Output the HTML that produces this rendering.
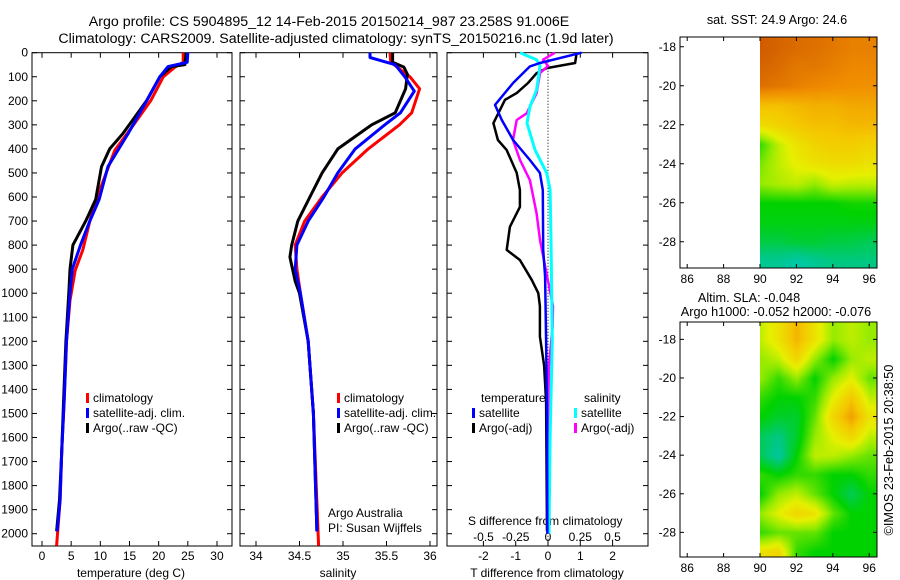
<!DOCTYPE html>
<html><head><meta charset="utf-8">
<style>
body{margin:0;background:#fff;}
#wrap{position:relative;width:900px;height:580px;overflow:hidden;font-family:"Liberation Sans",sans-serif;}
svg{position:absolute;left:0;top:0;}
text{font-family:"Liberation Sans",sans-serif;font-size:12px;fill:#000;}
canvas{position:absolute;}
</style></head>
<body>
<div id="wrap">
<canvas id="sst" width="117" height="231" style="left:760px;top:37px"></canvas>
<canvas id="sla" width="117" height="235" style="left:760px;top:322px"></canvas>
<svg id="svg" width="900" height="580" xmlns="http://www.w3.org/2000/svg">
<text x="329" y="26" text-anchor="middle" style="font-size:14.2px">Argo profile: CS 5904895_12 14-Feb-2015 20150214_987 23.258S 91.006E</text>
<text x="336" y="43" text-anchor="middle" style="font-size:14.2px">Climatology: CARS2009. Satellite-adjusted climatology: synTS_20150216.nc (1.9d later)</text>
<text x="777" y="24" text-anchor="middle" style="font-size:12.7px">sat. SST: 24.9 Argo: 24.6</text>
<text x="749" y="302" text-anchor="middle" style="font-size:12.7px">Altim. SLA: -0.048</text>
<text x="776" y="316" text-anchor="middle" style="font-size:12.7px">Argo h1000: -0.052 h2000: -0.076</text>
<text transform="translate(893,450) rotate(-90)" text-anchor="middle" style="font-size:12.7px">©IMOS 23-Feb-2015 20:38:50</text>
<text x="328" y="517">Argo Australia</text>
<text x="328" y="532">PI: Susan Wijffels</text>
<text x="468" y="525">S difference from climatology</text>
<text x="131" y="577" text-anchor="middle">temperature (deg C)</text>
<text x="338" y="577" text-anchor="middle">salinity</text>
<text x="547" y="577" text-anchor="middle">T difference from climatology</text>
</svg>
</div>
<script>
// ---- data ----
const depthTicks=[0,100,200,300,400,500,600,700,800,900,1000,1100,1200,1300,1400,1500,1600,1700,1800,1900,2000];
const tempTicks=[0,5,10,15,20,25,30];
const salTicks=[34,34.5,35,35.5,36];
const tdiffTicks=[-2,-1,0,1,2];
const sdiffTicks=[-0.5,-0.25,0,0.25,0.5];
const sdiffTickLabels=["-0.5","-0.25","0","0.25","0.5"];
const latTicks=[-18,-20,-22,-24,-26,-28];
const lonTicks=[86,88,90,92,94,96];

const tempClimDepth=[0,40,60,100,197,300,405,500,612,700,820,905,1030,1200,1444,1650,1860,2050];
const tempClim=[24.2,24.2,22.8,20.8,18.7,15.7,12.5,11.0,9.3,8.2,7.0,5.7,4.8,4.2,3.8,3.4,3.1,2.5];
const tempSatDepth=[0,40,58,100,197,335,474,610,700,800,900,1000,1200,1444,1650,1860,1990];
const tempSat=[25.0,24.9,21.6,20.2,18.0,14.8,11.3,9.8,8.2,6.6,5.2,4.8,4.2,3.8,3.4,3.1,2.6];
const tempArgoDepth=[0,50,58,100,197,335,400,474,610,700,800,900,1000,1200,1444,1650,1860,1990];
const tempArgo=[24.7,24.5,22.2,20.2,18.0,13.9,11.6,10.2,9.2,7.5,5.3,4.8,4.6,4.1,3.7,3.4,3.0,2.5];

const salClimDepth=[0,40,100,150,250,300,400,500,600,700,800,900,1000,1200,1500,2050];
const salClim=[35.54,35.55,35.77,35.88,35.79,35.65,35.29,34.99,34.76,34.56,34.45,34.47,34.51,34.6,34.66,34.72];
const salSatDepth=[0,20,50,100,160,250,300,400,500,600,700,800,900,1000,1200,1500,1990];
const salSat=[35.31,35.31,35.6,35.71,35.82,35.66,35.48,35.14,34.94,34.78,34.6,34.47,34.45,34.51,34.6,34.66,34.7];
const salArgoDepth=[0,40,60,90,150,250,300,400,500,600,700,800,850,950,1000,1200,1500,1990];
const salArgo=[35.57,35.57,35.7,35.74,35.72,35.6,35.33,34.94,34.76,34.62,34.48,34.41,34.39,34.45,34.5,34.6,34.66,34.7];

const dTSatDepth=[0,43,57,126,217,280,363,446,500,571,820,930,1195,1500,2000];
const dTSat=[1.04,-0.25,-0.56,-1.08,-1.64,-1.43,-1.08,-0.56,-0.25,-0.16,-0.15,-0.09,-0.06,-0.03,-0.02];
const dTArgoDepth=[0,43,64,85,126,168,196,293,363,405,500,571,641,724,820,862,946,1000,1054,1180,1300,1450,1990];
const dTArgo=[0.89,0.84,-0.04,-0.35,-0.62,-0.97,-1.33,-1.69,-1.55,-1.28,-0.97,-0.87,-0.87,-1.18,-1.28,-0.87,-0.50,-0.30,-0.25,-0.25,-0.12,-0.06,-0.03];
const dSSatDepth=[0,29,55,155,225,293,405,500,571,779,1195,1600,2000];
const dSSat=[-0.217,-0.088,-0.062,-0.088,-0.14,-0.163,-0.10,-0.01,0.016,0.023,0.033,0.016,0.008];
const dSArgoDepth=[0,29,55,85,168,252,280,363,446,530,668,779,904,1054,1140,1300,1600,1990];
const dSArgo=[0.054,-0.039,0,-0.062,-0.088,-0.165,-0.243,-0.271,-0.217,-0.14,-0.088,-0.062,-0.016,0.039,0.036,0.008,0,0];

const sstGrid=[
[0.97,0.95,0.93,0.92,0.9,0.88,0.88],
[0.95,0.93,0.9,0.9,0.88,0.86,0.86],
[0.92,0.9,0.88,0.86,0.85,0.84,0.84],
[0.72,0.72,0.74,0.76,0.76,0.78,0.78],
[0.62,0.66,0.7,0.72,0.72,0.74,0.74],
[0.35,0.5,0.6,0.66,0.68,0.68,0.66],
[0.42,0.5,0.56,0.6,0.62,0.62,0.6],
[0.45,0.48,0.5,0.45,0.52,0.5,0.5],
[0.3,0.3,0.3,0.3,0.3,0.32,0.32],
[0.28,0.28,0.28,0.28,0.28,0.28,0.28],
[0.22,0.22,0.24,0.24,0.22,0.22,0.2],
[0.12,0.12,0.08,0.12,0.15,0.15,0.15]];
const slaGrid=[
[0.5,0.6,0.75,0.6,0.45,0.5,0.45],
[0.45,0.5,0.65,0.45,0.3,0.45,0.5],
[0.45,0.35,0.45,0.3,0.45,0.55,0.4],
[0.35,0.3,0.3,0.35,0.55,0.7,0.5],
[0.3,0.25,0.25,0.4,0.65,0.8,0.6],
[0.2,0.15,0.25,0.45,0.55,0.65,0.5],
[0.2,0.1,0.3,0.5,0.5,0.45,0.4],
[0.35,0.3,0.35,0.35,0.3,0.3,0.35],
[0.3,0.45,0.5,0.4,0.3,0.2,0.3],
[0.45,0.55,0.65,0.6,0.4,0.3,0.3],
[0.35,0.4,0.4,0.4,0.3,0.3,0.3],
[0.6,0.65,0.35,0.3,0.3,0.3,0.3]];

// ---- drawing ----
const NS='http://www.w3.org/2000/svg';
const svg=document.getElementById('svg');
function mk(tag,attrs,parent){const e=document.createElementNS(NS,tag);for(const k in attrs)e.setAttribute(k,attrs[k]);(parent||svg).appendChild(e);return e;}
const TOP=52.7,BOT=546,PXD=0.2405;
const yD=d=>TOP+d*PXD;
const panels=[
 {x0:32,x1:232,name:'temperature-panel',xf:v=>42+v*5.833},
 {x0:240,x1:437,name:'salinity-panel',xf:v=>256+(v-34)*87},
 {x0:447,x1:648,name:'difference-panel',xf:v=>548+v*32.3}
];
const xS=v=>548+v*129;

panels.forEach((p,i)=>{
 const g=mk('g',{});
 
 
 const r=mk('rect',{x:p.x0,y:TOP,width:p.x1-p.x0,height:BOT-TOP,fill:'none',stroke:'#000','stroke-width':1},g);
 
 
 depthTicks.forEach(d=>{
  const y=yD(d);
  mk('line',{x1:p.x0,x2:p.x0+5,y1:y,y2:y,stroke:'#000'},g);
  mk('line',{x1:p.x1-5,x2:p.x1,y1:y,y2:y,stroke:'#000'},g);
  if(i===0){const t=mk('text',{x:28,y:y+4,'text-anchor':'end'},g);t.textContent=d;
   
   }
 });
});
function xticks(vals,labels,xf,ly,top,bot){
 vals.forEach((v,k)=>{const x=xf(v);
  if(top)mk('line',{x1:x,x2:x,y1:TOP,y2:TOP+5,stroke:'#000'});
  if(bot)mk('line',{x1:x,x2:x,y1:BOT-5,y2:BOT,stroke:'#000'});
  const t=mk('text',{x:x,y:ly,'text-anchor':'middle'});t.textContent=labels[k];
  
  });
}
xticks(tempTicks,tempTicks.map(String),panels[0].xf,560,true,true);
xticks(salTicks,salTicks.map(String),panels[1].xf,560,true,true);
xticks(tdiffTicks,tdiffTicks.map(String),panels[2].xf,560,true,true);
xticks(sdiffTicks,sdiffTickLabels,xS,541,false,false);
mk('line',{x1:548,x2:548,y1:TOP,y2:BOT,stroke:'#000','stroke-dasharray':'1,2'});

function line(ds,vs,xf,color,w,name){
 const pts=ds.map((d,k)=>xf(vs[k]).toFixed(1)+','+yD(d).toFixed(1)).join(' ');
 const pl=mk('polyline',{points:pts,fill:'none',stroke:color,'stroke-width':w,'stroke-linejoin':'round'});
 
 
}
line(tempClimDepth,tempClim,panels[0].xf,'#f00',3,'temperature-climatology-line');
line(tempArgoDepth,tempArgo,panels[0].xf,'#000',3,'temperature-argo-line');
line(tempSatDepth,tempSat,panels[0].xf,'#00f',3,'temperature-satellite-line');
line(salClimDepth,salClim,panels[1].xf,'#f00',3,'salinity-climatology-line');
line(salArgoDepth,salArgo,panels[1].xf,'#000',3,'salinity-argo-line');
line(salSatDepth,salSat,panels[1].xf,'#00f',3,'salinity-satellite-line');
line(dTArgoDepth,dTArgo,panels[2].xf,'#000',2.5,'t-diff-argo-line');
line(dSArgoDepth,dSArgo,xS,'#f0f',2.5,'s-diff-argo-line');
line(dSSatDepth,dSSat,xS,'#0ff',3,'s-diff-satellite-line');
line(dTSatDepth,dTSat,panels[2].xf,'#00f',2.5,'t-diff-satellite-line');

function legend(x,y,color,label){
 const g=mk('g',{});
 
 
 mk('rect',{x:x,y:y-9,width:3,height:10,fill:color},g);
 const t=mk('text',{x:x+7,y:y},g);t.textContent=label;
}
[[86,'#f00','climatology'],[86,'#00f','satellite-adj. clim.'],[86,'#000','Argo(..raw -QC)']].forEach((e,k)=>legend(e[0],402+k*15,e[1],e[2]));
[[337,'#f00','climatology'],[337,'#00f','satellite-adj. clim.'],[337,'#000','Argo(..raw -QC)']].forEach((e,k)=>legend(e[0],402+k*15,e[1],e[2]));
let tt=mk('text',{x:481,y:402});tt.textContent='temperature';
tt=mk('text',{x:584,y:402});tt.textContent='salinity';
legend(472,417,'#00f','satellite');legend(472,432,'#000','Argo(-adj)');
legend(574,417,'#0ff','satellite');legend(574,432,'#f0f','Argo(-adj)');

const maps=[{top:37,bot:268,latTop:-17.5,pxLat:19.5,grid:sstGrid,id:'sst',name:'sst-map'},
            {top:322,bot:557,latTop:-17.1,pxLat:19.3,grid:slaGrid,id:'sla',name:'sla-map'}];
const lonX=l=>760+(l-90)*18.2;
const stops=[[0,[0,200,210]],[0.15,[0,200,130]],[0.3,[0,210,0]],[0.45,[150,235,0]],[0.55,[230,240,0]],[0.7,[245,200,0]],[0.85,[240,140,0]],[1,[200,80,0]]];
function cmap(v){v=Math.max(0,Math.min(1,v));for(let i=1;i<stops.length;i++){if(v<=stops[i][0]){const a=stops[i-1],b=stops[i],f=(v-a[0])/(b[0]-a[0]);return a[1].map((c,k)=>Math.round(c+(b[1][k]-c)*f));}}return stops[stops.length-1][1];}
maps.forEach(m=>{
 const g=mk('g',{});
 
 
 const yL=l=>m.top+(m.latTop-l)*m.pxLat;
 const cv=document.getElementById(m.id),ctx=cv.getContext('2d');
 const W=cv.width,H=cv.height,G=m.grid,R=G.length,C=G[0].length;
 const img=ctx.createImageData(W,H);
 for(let py=0;py<H;py++)for(let px=0;px<W;px++){
  const lat=m.latTop-(py)/m.pxLat, lon=90+px/18.2;
  let fr=(-18-lat), fc=lon-90;
  fr=Math.max(0,Math.min(R-1.0001,fr));fc=Math.max(0,Math.min(C-1.0001,fc));
  const r0=Math.floor(fr),c0=Math.floor(fc),ar=fr-r0,ac=fc-c0;
  const v=G[r0][c0]*(1-ar)*(1-ac)+G[r0+1][c0]*ar*(1-ac)+G[r0][c0+1]*(1-ar)*ac+G[r0+1][c0+1]*ar*ac;
  const c=cmap(v),o=(py*W+px)*4;img.data[o]=c[0];img.data[o+1]=c[1];img.data[o+2]=c[2];img.data[o+3]=255;}
 ctx.putImageData(img,0,0);
 mk('rect',{x:680,y:m.top,width:197,height:m.bot-m.top,fill:'none',stroke:'#000'},g);
 latTicks.forEach(l=>{const y=yL(l);mk('line',{x1:680,x2:684,y1:y,y2:y,stroke:'#000'},g);mk('line',{x1:873,x2:877,y1:y,y2:y,stroke:'#000'},g);
  const t=mk('text',{x:676,y:y+4,'text-anchor':'end'},g);t.textContent=l;});
 lonTicks.forEach(l=>{const x=lonX(l);mk('line',{x1:x,x2:x,y1:m.top,y2:m.top+4,stroke:'#000'},g);mk('line',{x1:x,x2:x,y1:m.bot-4,y2:m.bot,stroke:'#000'},g);
  const t=mk('text',{x:x,y:m.bot+15,'text-anchor':'middle'},g);t.textContent=l;});
});
</script>
</body></html>
